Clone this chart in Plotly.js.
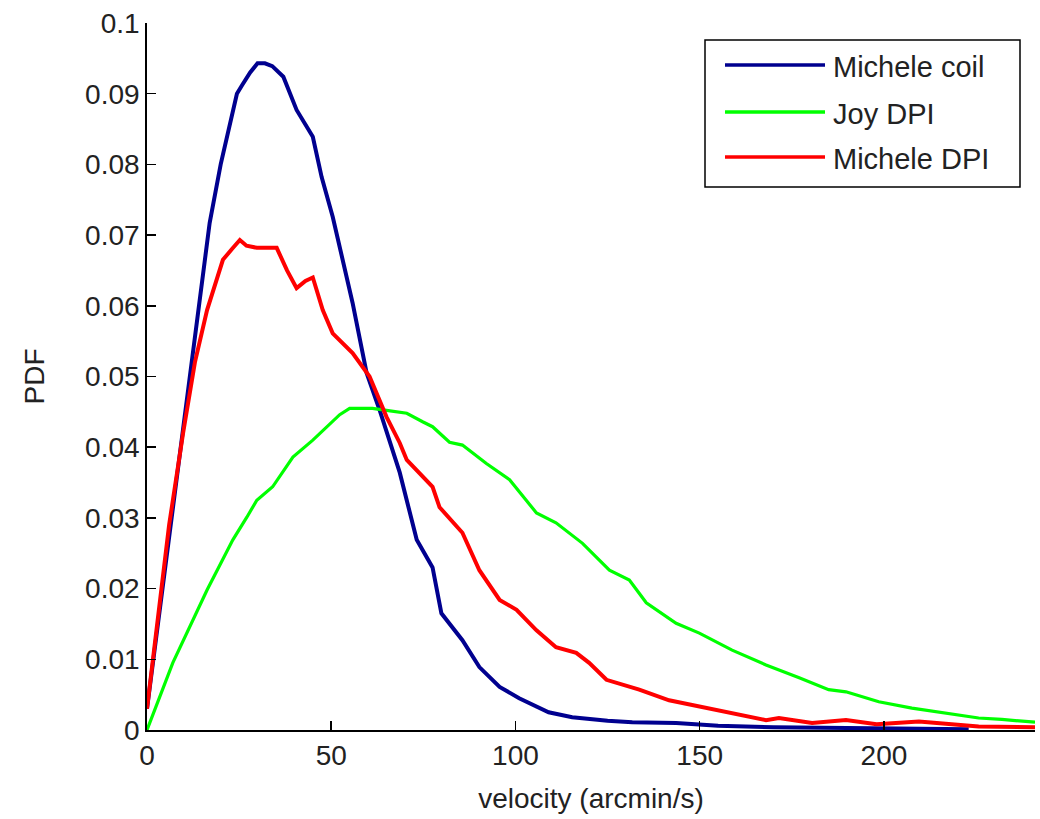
<!DOCTYPE html>
<html>
<head>
<meta charset="utf-8">
<script src="https://cdn.plot.ly/plotly-3.0.1.min.js"></script>
<style>html,body{margin:0;padding:0;background:#fff;}#chart{width:1040px;height:819px;}</style>
</head>
<body>
<div id="chart"></div>
<script>
const seriesNames = ["Michele coil", "Joy DPI", "Michele DPI"];
const seriesColors = ["#00008f", "#00ff00", "#ff0000"];

const coilX = [0,3,7,10,14,17,20,22.5,24.4,25.8,28,30,32,34,37,40.6,43.3,45,47.4,50.4,55.8,59.6,63.1,68.6,73.2,77.5,79.9,85.6,90.2,95.7,101,109,115.4,125,131.7,143.6,155,170,190,210,223];
const coilY = [0.003,0.015,0.031,0.044,0.060,0.0717,0.080,0.0859,0.090,0.0912,0.093,0.0943,0.0943,0.0939,0.0924,0.0877,0.0853,0.0839,0.0782,0.0726,0.0604,0.0505,0.0453,0.0364,0.0269,0.023,0.0165,0.0127,0.0089,0.0061,0.0045,0.0025,0.0018,0.0013,0.0011,0.001,0.0006,0.0004,0.0003,0.0002,0.0001];

const joyX = [0,7,16.3,23.3,27.1,29.8,34.1,39.6,45,52.3,55,61.2,65,70.5,74.8,77.5,82.1,85.6,92.1,98.4,105.7,111,118.2,125.5,130.9,135.5,143.6,149.9,158.8,168,177,185,189.7,198.6,207.6,216.8,225.7,232,241];
const joyY = [0,0.0095,0.0198,0.0269,0.0301,0.0325,0.0344,0.0386,0.041,0.0446,0.0455,0.0455,0.0452,0.0448,0.0436,0.0429,0.0407,0.0403,0.0377,0.0354,0.0307,0.0293,0.0264,0.0226,0.0212,0.018,0.0151,0.0137,0.0113,0.0092,0.0074,0.0057,0.0054,0.004,0.0031,0.0024,0.0017,0.0015,0.0011];

const dpiX = [0,0.8,3.5,6,9.8,13,16.3,20.6,23,25.2,27,29.8,35.2,38,40.6,43,45,47.7,50.4,55.8,60.4,65,68.6,70.5,77.5,79.4,85.6,90.2,95.7,100.3,105.7,111,116.5,120,124.7,133.6,141.7,149.9,158.8,168,171.5,180.5,189.7,198,209.5,218,225.7,241];
const dpiY = [0.003,0.0066,0.0184,0.029,0.042,0.052,0.0594,0.0665,0.068,0.0693,0.0685,0.0682,0.0682,0.065,0.0625,0.0635,0.064,0.0594,0.0561,0.0533,0.050,0.0443,0.0406,0.0382,0.0344,0.0315,0.0279,0.0226,0.0184,0.017,0.0141,0.0117,0.0109,0.0095,0.0071,0.0057,0.0042,0.0033,0.0024,0.0014,0.0017,0.001,0.0014,0.0008,0.0012,0.0008,0.0005,0.0004];

const xTicks = [0,50,100,150,200];
const yTicks = [0,0.01,0.02,0.03,0.04,0.05,0.06,0.07,0.08,0.09,0.1];
const yTickText = ["0","0.01","0.02","0.03","0.04","0.05","0.06","0.07","0.08","0.09","0.1"];

const font = "Liberation Sans, Arial, sans-serif";
const FS = 28;

const traces = [
  {x: coilX, y: coilY, name: seriesNames[0], mode: "lines", line: {color: seriesColors[0], width: 4}},
  {x: joyX, y: joyY, name: seriesNames[1], mode: "lines", line: {color: seriesColors[1], width: 3.2}},
  {x: dpiX, y: dpiY, name: seriesNames[2], mode: "lines", line: {color: seriesColors[2], width: 4}}
];

// plot area in pixels (for the hand-placed legend box)
const PL = 147, PR = 1035, PT = 23, PB = 730;
const px = v => (v - PL) / (PR - PL);
const py = v => (PB - v) / (PB - PT);

const shapes = [
  {type: "rect", xref: "paper", yref: "paper", x0: px(705), x1: px(1020), y0: py(187), y1: py(40),
   line: {color: "#000", width: 1.5}, fillcolor: "#fff", layer: "above"}
];
const annotations = [];
const rowY = [65, 112, 157];
seriesNames.forEach((n, i) => {
  shapes.push({type: "line", xref: "paper", yref: "paper", x0: px(725), x1: px(825), y0: py(rowY[i]), y1: py(rowY[i]),
    line: {color: seriesColors[i], width: 3.6}, layer: "above"});
  annotations.push({xref: "paper", yref: "paper", x: px(831), y: py(rowY[i] + 2), xanchor: "left", yanchor: "middle",
    text: n, showarrow: false, font: {family: font, size: 29, color: "#222"}});
});

const layout = {
  width: 1040, height: 819,
  margin: {l: PL, r: 1040 - PR, t: PT, b: 819 - PB},
  paper_bgcolor: "#fff", plot_bgcolor: "#fff",
  font: {family: font, size: FS, color: "#222"},
  showlegend: false,
  shapes: shapes,
  annotations: annotations,
  xaxis: {
    range: [0, 241], tickvals: xTicks, ticktext: xTicks.map(String),
    ticks: "inside", ticklen: 9, tickcolor: "#000", tickwidth: 1.5,
    showline: true, linecolor: "#000", linewidth: 1.8, mirror: false,
    showgrid: false, zeroline: false,
    tickfont: {family: font, size: FS, color: "#222"},
    title: {text: "velocity (arcmin/s)", font: {family: font, size: FS, color: "#222"}, standoff: 18}
  },
  yaxis: {
    range: [0, 0.1], tickvals: yTicks, ticktext: yTickText,
    ticks: "inside", ticklen: 9, tickcolor: "#000", tickwidth: 1.5,
    showline: true, linecolor: "#000", linewidth: 1.8, mirror: false,
    showgrid: false, zeroline: false,
    tickfont: {family: font, size: FS, color: "#222"},
    title: {text: "PDF", font: {family: font, size: FS, color: "#222"}, standoff: 32}
  }
};

Plotly.newPlot("chart", traces, layout, {displayModeBar: false, staticPlot: true});
</script>
</body>
</html>
